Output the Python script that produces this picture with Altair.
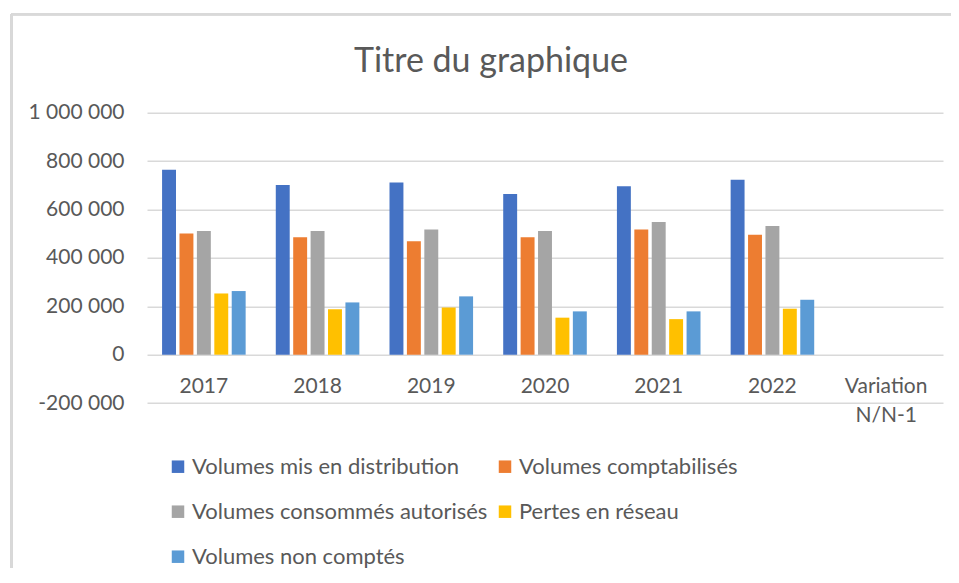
import altair as alt
import pandas as pd

categories = ["2017", "2018", "2019", "2020", "2021", "2022", "Variation N/N-1"]
series = [
    "Volumes mis en distribution",
    "Volumes comptabilisés",
    "Volumes consommés autorisés",
    "Pertes en réseau",
    "Volumes non comptés",
]
distribution = [764000, 701000, 712000, 664000, 696000, 723000, None]
comptabilises = [501000, 485000, 469000, 485000, 517000, 496000, None]
consommes = [511000, 511000, 517000, 511000, 548000, 532000, None]
pertes = [253000, 188000, 195000, 153000, 147000, 190000, None]
non_comptes = [263000, 216000, 241000, 179000, 179000, 227000, None]
colors = ["#4472C4", "#ED7D31", "#A5A5A5", "#FFC000", "#5B9BD5"]
y_ticks = [-200000, 0, 200000, 400000, 600000, 800000, 1000000]

values_by_series = [distribution, comptabilises, consommes, pertes, non_comptes]
rows = []
for s, vals in zip(series, values_by_series):
    for c, v in zip(categories, vals):
        if v is not None:
            rows.append({"categorie": c, "serie": s, "valeur": v})
df = pd.DataFrame(rows)

label_color = "#595959"
grid_color = "#D9D9D9"
FONT = "Lato"

bars = alt.Chart(df).mark_bar().encode(
    x=alt.X(
        "categorie:N",
        sort=categories,
        scale=alt.Scale(domain=categories, paddingInner=0.265, paddingOuter=0.1325),
        axis=alt.Axis(
            title=None,
            orient="bottom",
            offset=-48.4,
            domain=False,
            ticks=False,
            tickSize=0,
            labelAngle=0,
            labelPadding=21,
            labelBaseline="top",
            labelFontSize=21,
            labelColor=label_color,
            labelLineHeight=29,
            labelExpr="datum.label == 'Variation N/N-1' ? ['Variation', 'N/N-1'] : datum.label",
        ),
    ),
    xOffset=alt.XOffset(
        "serie:N",
        sort=series,
        scale=alt.Scale(domain=series, paddingInner=0.2, paddingOuter=0),
    ),
    y=alt.Y(
        "valeur:Q",
        scale=alt.Scale(domain=[-200000, 1000000], nice=False, zero=False),
        axis=alt.Axis(
            title=None,
            values=y_ticks,
            domain=False,
            ticks=False,
            tickSize=0,
            grid=True,
            gridColor=grid_color,
            gridWidth=1.5,
            labelPadding=23,
            labelFontSize=21,
            labelColor=label_color,
            labelExpr="(datum.value < 0 ? '-' : '') + replace(format(abs(datum.value), ','), /,/g, ' ')",
        ),
    ),
    color=alt.Color(
        "serie:N",
        sort=series,
        scale=alt.Scale(domain=series, range=colors),
        legend=alt.Legend(
            title=None,
            orient="none",
            direction="horizontal",
            legendX=20,
            legendY=343,
            columns=2,
            symbolType="square",
            symbolSize=156,
            symbolStrokeWidth=0,
            symbolOpacity=1,
            labelFontSize=22,
            labelColor=label_color,
            labelLimit=500,
            labelOffset=3,
            rowPadding=23,
            columnPadding=6,
            padding=0,
        ),
    ),
)

border_top = alt.Chart(df).mark_rule(color=grid_color, strokeWidth=2).encode(
    x=alt.value(-135.7), x2=alt.value(820), y=alt.value(-98.4)
)
border_left = alt.Chart(df).mark_rule(color=grid_color, strokeWidth=2).encode(
    x=alt.value(-135.7), y=alt.value(-98.4), y2=alt.value(480)
)

chart = (
    alt.layer(border_top, border_left, bars)
    .properties(
        width=796,
        height=290.4,
        padding={"left": 139, "top": 104.7, "right": 8, "bottom": 165},
        autosize=alt.AutoSizeParams(type="none"),
        title=alt.TitleParams(
            text="Titre du graphique",
            font=FONT,
            fontSize=34,
            fontWeight="normal",
            color=label_color,
            anchor="middle",
            frame="group",
            dx=-54,
            offset=0,
            dy=93,
            baseline="alphabetic",
        ),
    )
    .configure(font=FONT)
    .configure_view(stroke=None)
)

chart.save("out.html", embed_options={"renderer": "svg", "actions": False})
